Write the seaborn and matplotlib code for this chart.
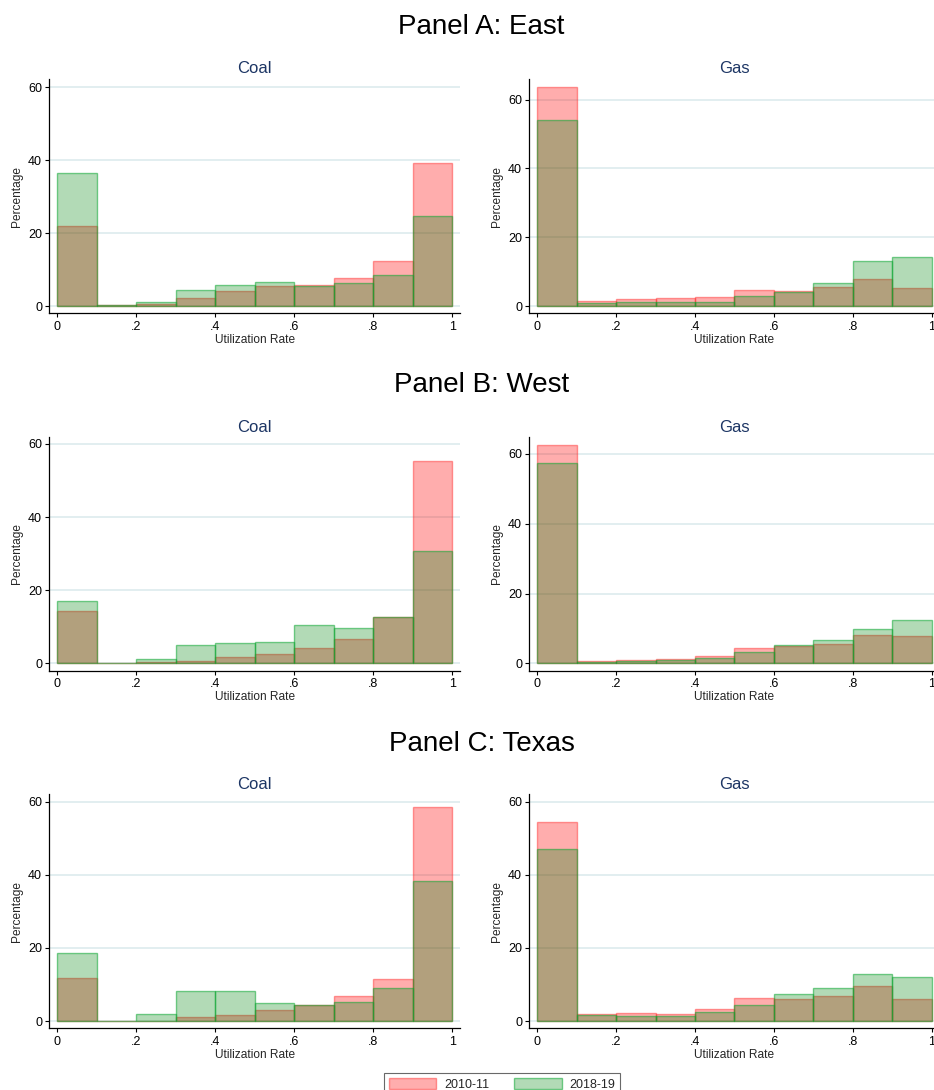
import numpy as np
import pandas as pd
import matplotlib
matplotlib.use("Agg")
import matplotlib.pyplot as plt
from matplotlib.patches import Patch
import seaborn as sns

# ---------------- data ----------------
bin_edges = [0.0, 0.1, 0.2, 0.3, 0.4, 0.5, 0.6, 0.7, 0.8, 0.9, 1.0]
periods = ["2010-11", "2018-19"]
panel_titles = ["Panel A: East", "Panel B: West", "Panel C: Texas"]
fuels = ["Coal", "Gas"]
x_ticks = [0, 0.2, 0.4, 0.6, 0.8, 1.0]
x_tick_labels = ["0", ".2", ".4", ".6", ".8", "1"]
y_ticks = [0, 20, 40, 60]

# East
east_coal_2010 = [21.9, 0.2, 0.6, 2.1, 4.1, 5.5, 5.9, 7.7, 12.3, 39.2]
east_coal_2018 = [36.5, 0.2, 1.0, 4.3, 5.7, 6.6, 5.6, 6.3, 8.4, 24.6]
east_gas_2010 = [63.6, 1.4, 2.0, 2.3, 2.5, 4.7, 4.4, 5.5, 8.0, 5.3]
east_gas_2018 = [54.0, 0.8, 1.2, 1.2, 1.2, 3.0, 4.2, 6.8, 13.1, 14.2]
# West
west_coal_2010 = [14.3, 0.2, 0.3, 0.8, 1.8, 2.6, 4.3, 6.7, 12.6, 55.2]
west_coal_2018 = [17.2, 0.2, 1.2, 5.0, 5.7, 6.0, 10.4, 9.6, 12.8, 30.7]
west_gas_2010 = [62.6, 0.6, 1.0, 1.2, 2.1, 4.5, 5.1, 5.5, 8.2, 7.9]
west_gas_2018 = [57.3, 0.5, 0.6, 1.0, 1.7, 3.4, 5.2, 6.8, 10.0, 12.5]
# Texas
texas_coal_2010 = [11.9, 0.1, 0.1, 1.2, 1.7, 3.0, 4.3, 6.8, 11.6, 58.4]
texas_coal_2018 = [18.5, 0.1, 2.0, 8.3, 8.1, 4.9, 4.4, 5.3, 8.9, 38.2]
texas_gas_2010 = [54.5, 2.0, 2.2, 1.9, 3.3, 6.4, 6.1, 6.8, 9.6, 6.1]
texas_gas_2018 = [47.1, 1.6, 1.3, 1.3, 2.4, 4.3, 7.3, 9.0, 12.9, 12.1]

data = [
    [(east_coal_2010, east_coal_2018), (east_gas_2010, east_gas_2018)],
    [(west_coal_2010, west_coal_2018), (west_gas_2010, west_gas_2018)],
    [(texas_coal_2010, texas_coal_2018), (texas_gas_2010, texas_gas_2018)],
]

# ---------------- style ----------------
sns.set_style("ticks")
plt.rcParams["font.family"] = ["Liberation Sans", "DejaVu Sans"]

W, H = 934, 1090
fig = plt.figure(figsize=(W / 100, H / 100), dpi=100)

red_face = (1.0, 0.0, 0.0, 0.32)
red_edge = (1.0, 0.15, 0.15, 0.45)
green_face = (0.0, 0.52, 0.06, 0.30)
green_edge = (0.05, 0.66, 0.2, 0.55)
grid_color = "#E2EEF0"
title_color = "#1C3564"

# axes geometry in pixels: (left, right) for columns, (top, bottom) for rows
col_px = [(49.3, 460.0), (529.3, 939.5)]
row_px = [(79.0, 313.3), (437.3, 670.7), (794.3, 1028.3)]
ymax = [[62.3, 66.0], [61.8, 64.7], [62.0, 62.0]]
panel_title_y = [27, 385, 744]

centers = [(bin_edges[i] + bin_edges[i + 1]) / 2 for i in range(len(bin_edges) - 1)]

for r in range(3):
    fig.text(481.5 / W, 1 - panel_title_y[r] / H, panel_titles[r],
             ha="center", va="center", fontsize=20, color="black")
    for c in range(2):
        l, rr = col_px[c]
        t, b = row_px[r]
        ax = fig.add_axes([l / W, 1 - b / H, (rr - l) / W, (b - t) / H])
        v2010, v2018 = data[r][c]
        df = pd.DataFrame({
            "rate": centers * 2,
            "pct": list(v2010) + list(v2018),
            "period": [periods[0]] * len(centers) + [periods[1]] * len(centers),
        })
        sns.histplot(data=df[df.period == periods[0]], x="rate", weights="pct",
                     bins=bin_edges, ax=ax, facecolor=red_face, edgecolor=red_edge,
                     linewidth=1.0, zorder=2)
        sns.histplot(data=df[df.period == periods[1]], x="rate", weights="pct",
                     bins=bin_edges, ax=ax, facecolor=green_face, edgecolor=green_edge,
                     linewidth=1.0, zorder=3)
        ym = ymax[r][c]
        ax.set_ylim(-0.032 * ym, ym)
        ax.set_xlim(-0.02, 1.02)
        ax.set_xticks(x_ticks)
        ax.set_xticklabels(x_tick_labels)
        ax.set_yticks(y_ticks)
        ax.set_axisbelow(True)
        ax.grid(axis="y", color=grid_color, linewidth=1.4, zorder=0)
        ax.grid(axis="x", visible=False)
        for s in ["top", "right"]:
            ax.spines[s].set_visible(False)
        for s in ["left", "bottom"]:
            ax.spines[s].set_color("black")
            ax.spines[s].set_linewidth(0.9)
        ax.tick_params(axis="both", direction="out", length=3.2, width=0.8,
                       labelsize=9, colors="black", pad=2)
        ax.set_xlabel("Utilization Rate", fontsize=8.6, labelpad=1)
        ax.set_ylabel("Percentage", fontsize=8.6, labelpad=4)
        ax.set_title(fuels[c], fontsize=12, color=title_color, pad=4)

handles = [Patch(facecolor=red_face, edgecolor=red_edge, linewidth=1.0, label=periods[0]),
           Patch(facecolor=green_face, edgecolor=green_edge, linewidth=1.0, label=periods[1])]
leg = fig.legend(handles=handles, loc="upper center", ncol=2,
                 bbox_to_anchor=(502 / W, 1 - 1067 / H), fontsize=9,
                 frameon=True, fancybox=False, handlelength=3.8, handleheight=1.0,
                 columnspacing=2.0, borderpad=0.4, handletextpad=0.6)
leg.get_frame().set_edgecolor("#444444")
leg.get_frame().set_linewidth(0.8)

fig.savefig("out.png", dpi=100)
